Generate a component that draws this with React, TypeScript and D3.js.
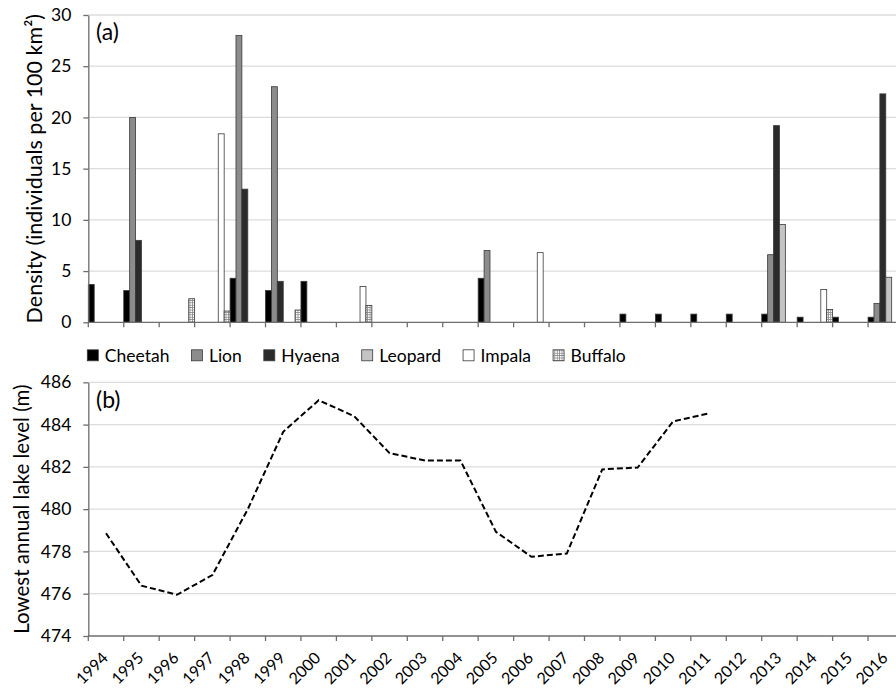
import { useEffect, useRef } from 'react';
import * as d3 from 'd3';

const years = [1994, 1995, 1996, 1997, 1998, 1999, 2000, 2001, 2002, 2003, 2004, 2005,
  2006, 2007, 2008, 2009, 2010, 2011, 2012, 2013, 2014, 2015, 2016];

// densities (individuals per 100 km2), one value per year
const cheetah = [3.7, 3.1, 0, 0, 4.3, 3.1, 4.0, 0, 0, 0, 0, 4.3, 0, 0, 0, 0.8, 0.8, 0.8, 0.8, 0.8, 0.5, 0.5, 0.5];
const lion = [0, 20, 0, 0, 28, 23, 0, 0, 0, 0, 0, 7.0, 0, 0, 0, 0, 0, 0, 0, 6.6, 0, 0, 1.85];
const hyaena = [0, 8, 0, 0, 13, 4.0, 0, 0, 0, 0, 0, 0, 0, 0, 0, 0, 0, 0, 0, 19.2, 0, 0, 22.3];
const leopard = [0, 0, 0, 0, 0, 0, 0, 0, 0, 0, 0, 0, 0, 0, 0, 0, 0, 0, 0, 9.55, 0, 0, 4.4];
const impala = [0, 0, 0, 18.4, 0, 0, 0, 3.5, 0, 0, 0, 0, 6.8, 0, 0, 0, 0, 0, 0, 0, 3.2, 0, 0];
const buffalo = [0, 0, 2.3, 1.1, 0, 1.2, 0, 1.65, 0, 0, 0, 0, 0, 0, 0, 0, 0, 0, 0, 0, 1.25, 0, 0];

// lowest annual lake level (m), no data after 2011
const lakeLevel = [478.86, 476.38, 475.95, 476.88, 480.0, 483.66, 485.15, 484.4, 482.65, 482.3,
  482.3, 478.93, 477.75, 477.9, 481.88, 481.97, 484.15, 484.53, null, null, null, null, null];

const seriesNames = ['Cheetah', 'Lion', 'Hyaena', 'Leopard', 'Impala', 'Buffalo'];
const seriesValues = [cheetah, lion, hyaena, leopard, impala, buffalo];
const seriesFill = ['#000000', '#8c8c8c', '#2b2b2b', '#c4c4c4', '#ffffff', 'url(#buffaloPattern)'];

const FONT = 'Lato, "Open Sans", sans-serif';
const AXIS = '#6e6e6e';
const GRID = '#dcdcdc';

export default function App() {
  const svgRef = useRef<SVGSVGElement>(null);

  useEffect(() => {
    if (!svgRef.current) return;
    const svg = d3.select(svgRef.current);
    svg.selectAll('*').remove();

    const left = 88.3;
    const right = 903.5;

    // pattern for buffalo bars
    const pat = svg.append('defs').append('pattern')
      .attr('id', 'buffaloPattern')
      .attr('patternUnits', 'userSpaceOnUse')
      .attr('width', 2.4)
      .attr('height', 2.4);
    pat.append('rect').attr('width', 2.4).attr('height', 2.4).attr('fill', '#ffffff');
    pat.append('path').attr('d', 'M0,0.4H2.4M0.4,0V2.4').attr('stroke', '#8a8a8a').attr('stroke-width', 0.8);

    const x = d3.scaleBand<number>().domain(years).range([left, right]).padding(0);
    const sub = d3.scaleBand<string>().domain(seriesNames).range([0, x.bandwidth()]).padding(0);

    // ---------- panel (a) ----------
    const yTop = d3.scaleLinear().domain([0, 30]).range([322.3, 15]);

    svg.append('g').selectAll('line')
      .data(yTop.ticks(6).filter(d => d > 0))
      .join('line')
      .attr('x1', left).attr('x2', right)
      .attr('y1', d => yTop(d)).attr('y2', d => yTop(d))
      .attr('stroke', GRID).attr('stroke-width', 1.3);

    const bars = svg.append('g');
    seriesNames.forEach((name, si) => {
      const vals = seriesValues[si];
      bars.selectAll(`.bar-${si}`)
        .data(years.map((yr, i) => ({ yr, v: vals[i] })).filter(d => d.v > 0))
        .join('rect')
        .attr('class', `bar-${si}`)
        .attr('x', d => x(d.yr)! + sub(name)!)
        .attr('y', d => yTop(d.v))
        .attr('width', sub.bandwidth())
        .attr('height', d => yTop(0) - yTop(d.v))
        .attr('fill', seriesFill[si])
        .attr('stroke', '#3a3a3a')
        .attr('stroke-width', 0.8);
    });

    const drawXAxis = (yPos: number) => {
      const g = svg.append('g');
      g.append('line')
        .attr('x1', left).attr('x2', right)
        .attr('y1', yPos).attr('y2', yPos)
        .attr('stroke', AXIS).attr('stroke-width', 1.3);
      g.selectAll('line.tick')
        .data(years)
        .join('line')
        .attr('class', 'tick')
        .attr('x1', d => x(d)!).attr('x2', d => x(d)!)
        .attr('y1', yPos).attr('y2', yPos + 5)
        .attr('stroke', AXIS).attr('stroke-width', 1.3);
    };

    const drawYAxis = (scale: d3.ScaleLinear<number, number>, size: number) => {
      const g = svg.append('g')
        .attr('transform', `translate(${left},0)`)
        .call(d3.axisLeft(scale).ticks(6).tickSize(5).tickPadding(12).tickSizeOuter(0));
      g.select('.domain').attr('stroke', AXIS).attr('stroke-width', 1.3);
      g.selectAll('.tick line').attr('stroke', AXIS).attr('stroke-width', 1.3);
      g.selectAll('.tick text')
        .attr('fill', '#000')
        .style('font-family', FONT)
        .style('font-size', `${size}px`);
    };

    drawXAxis(yTop(0));
    drawYAxis(yTop, 17.5);

    svg.append('text')
      .attr('x', 96).attr('y', 40)
      .style('font-family', FONT).style('font-size', '23px')
      .text('(a)');

    svg.append('text')
      .attr('transform', `translate(41.5,${(yTop(0) + yTop(30)) / 2}) rotate(-90)`)
      .attr('text-anchor', 'middle')
      .style('font-family', FONT).style('font-size', '21.5px')
      .text('Density (individuals per 100 km²)');

    // ---------- legend ----------
    const legend = svg.append('g');
    let lx = 87.3;
    seriesNames.forEach((name, si) => {
      legend.append('rect')
        .attr('x', lx).attr('y', 349.8)
        .attr('width', 11).attr('height', 11)
        .attr('fill', seriesFill[si])
        .attr('stroke', '#3a3a3a').attr('stroke-width', 0.8);
      const t = legend.append('text')
        .attr('x', lx + 17.5).attr('y', 361.5)
        .style('font-family', FONT).style('font-size', '17.5px')
        .text(name);
      const w = (t.node() as SVGTextElement).getComputedTextLength();
      lx = lx + 17.5 + w + 22;
    });

    // ---------- panel (b) ----------
    const yBot = d3.scaleLinear().domain([474, 486]).range([636, 382.3]);

    svg.append('g').selectAll('line')
      .data(yBot.ticks(6).filter(d => d > 474))
      .join('line')
      .attr('x1', left).attr('x2', right)
      .attr('y1', d => yBot(d)).attr('y2', d => yBot(d))
      .attr('stroke', GRID).attr('stroke-width', 1.3);

    const line = d3.line<number | null>()
      .defined(d => d !== null)
      .x((_, i) => x(years[i])! + x.bandwidth() / 2)
      .y(d => yBot(d as number));

    svg.append('path')
      .datum(lakeLevel)
      .attr('fill', 'none')
      .attr('stroke', '#000')
      .attr('stroke-width', 2)
      .attr('stroke-dasharray', '6,3')
      .attr('d', line);

    drawXAxis(yBot(474));
    drawYAxis(yBot, 17.5);

    svg.append('g').selectAll('text')
      .data(years)
      .join('text')
      .attr('transform', d => `translate(${x(d)! + x.bandwidth() / 2 + 3},659) rotate(-45)`)
      .attr('text-anchor', 'end')
      .style('font-family', FONT).style('font-size', '16px')
      .text(d => String(d));

    svg.append('text')
      .attr('x', 96).attr('y', 408)
      .style('font-family', FONT).style('font-size', '23px')
      .text('(b)');

    svg.append('text')
      .attr('transform', `translate(28.5,${(yBot(474) + yBot(486)) / 2}) rotate(-90)`)
      .attr('text-anchor', 'middle')
      .style('font-family', FONT).style('font-size', '20.5px')
      .text('Lowest annual lake level (m)');
  }, []);

  return (
    <svg
      ref={svgRef}
      width={896}
      height={693}
      style={{ position: 'absolute', left: 0, top: 0, background: '#fff' }}
    />
  );
}
